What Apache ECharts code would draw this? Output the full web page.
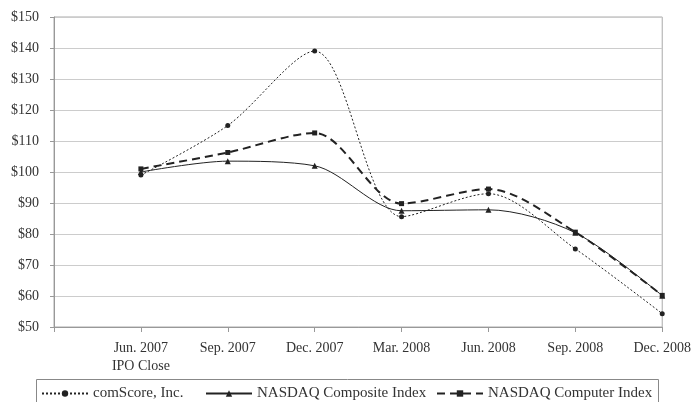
<!DOCTYPE html>
<html>
<head>
<meta charset="utf-8">
<script src="https://cdn.jsdelivr.net/npm/echarts@6/dist/echarts.min.js"></script>
<style>
  html, body { margin: 0; padding: 0; background: #fff; }
  #chart { width: 694px; height: 402px; }
</style>
</head>
<body>
<div id="chart"></div>
<script>
  // first slot is empty so Jun. 2007 sits one step in from the axis
  var categories = ['', 'Jun. 2007\nIPO Close', 'Sep. 2007', 'Dec. 2007', 'Mar. 2008', 'Jun. 2008', 'Sep. 2008', 'Dec. 2008'];
  var comScore = [null, 99, 115, 139, 85.6, 93, 75.2, 54.3];
  var nasdaqComposite = [null, 100, 103.5, 102, 87.5, 87.8, 80.4, 60.1];
  var nasdaqComputer = [null, 101, 106.3, 112.6, 89.8, 94.5, 80.6, 60.2];
  var seriesNames = ['comScore, Inc.', 'NASDAQ Composite Index', 'NASDAQ Computer Index'];
  var yTicks = [50, 150, 10]; // min, max, step

  var font = 'Liberation Serif';
  var ink = '#222';
  var textColor = '#333';

  function legendAt(left, name) {
    return {
      left: left, top: 381,
      itemWidth: 46, itemHeight: 8,
      textStyle: { fontFamily: font, fontSize: 15, color: textColor },
      data: [name]
    };
  }

  var chart = echarts.init(document.getElementById('chart'));
  chart.setOption({
    animation: false,
    textStyle: { fontFamily: font },
    grid: {
      left: 54, right: 30, top: 17, bottom: 75,
      show: true, borderColor: '#aaa', borderWidth: 1
    },
    legend: [
      legendAt(36, seriesNames[0]),
      legendAt(200, seriesNames[1]),
      legendAt(431, seriesNames[2])
    ],
    graphic: [{
      type: 'rect',
      shape: { x: 36.5, y: 379.5, width: 622, height: 30 },
      style: { fill: 'none', stroke: '#888', lineWidth: 1 },
      silent: true
    }],
    xAxis: {
      type: 'category',
      boundaryGap: false,
      data: categories,
      axisLine: { lineStyle: { color: '#999' } },
      axisTick: { show: true, length: 5, lineStyle: { color: '#999' } },
      axisLabel: { fontFamily: font, fontSize: 14, color: textColor, margin: 12, lineHeight: 18, interval: 0 },
      splitLine: { show: false }
    },
    yAxis: {
      type: 'value',
      min: yTicks[0], max: yTicks[1], interval: yTicks[2],
      axisLine: { show: true, lineStyle: { color: '#999' } },
      axisTick: { show: true, length: 4, lineStyle: { color: '#999' } },
      axisLabel: { fontFamily: font, fontSize: 14, color: textColor, margin: 15, formatter: '${value}' },
      splitLine: { lineStyle: { color: '#ccc' } }
    },
    series: [{
      name: seriesNames[0],
      type: 'line',
      data: comScore,
      smooth: 0.3,
      symbol: 'circle', symbolSize: 5,
      itemStyle: { color: ink },
      lineStyle: { color: ink, width: 1, type: [2, 2] }
    }, {
      name: seriesNames[1],
      type: 'line',
      data: nasdaqComposite,
      smooth: 0.3,
      symbol: 'triangle', symbolSize: 6,
      itemStyle: { color: ink },
      lineStyle: { color: ink, width: 1 }
    }, {
      name: seriesNames[2],
      type: 'line',
      data: nasdaqComputer,
      smooth: 0.3,
      symbol: 'rect', symbolSize: 5,
      itemStyle: { color: ink },
      lineStyle: { color: ink, width: 2, type: [8, 5] }
    }]
  });
</script>
</body>
</html>
